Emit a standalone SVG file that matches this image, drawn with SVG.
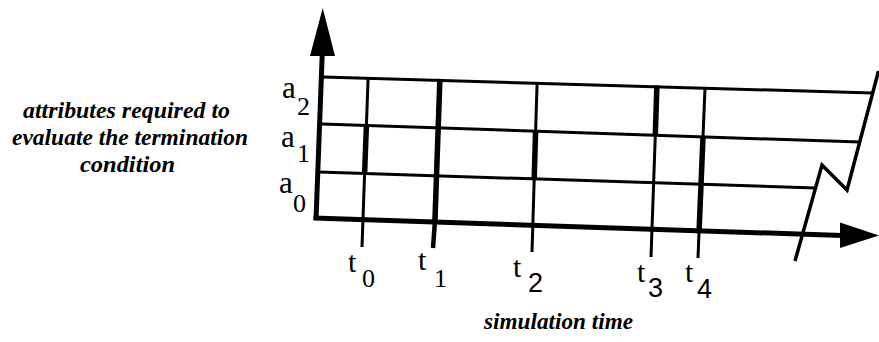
<svg xmlns="http://www.w3.org/2000/svg" width="879" height="342" viewBox="0 0 879 342">
  <rect width="879" height="342" fill="#fff"/>

  <g id="grid" stroke="#000" stroke-width="3" fill="none">
    <line x1="323" y1="77" x2="872.5" y2="93.1"/>
    <line x1="322" y1="124" x2="859.7" y2="142.1"/>
    <line x1="319" y1="172" x2="815.5" y2="188"/>
  </g>

  <g id="t0" stroke="#000" stroke-width="3" fill="none">
    <line x1="368.1" y1="78.3" x2="366.4" y2="125.5"/>
    <line stroke-width="5.5" x1="366.4" y1="125.5" x2="364.6" y2="173.5"/>
    <line x1="364.6" y1="173.5" x2="362" y2="247"/>
  </g>
  <g id="t1" stroke="#000" stroke-width="5.5" fill="none">
    <line x1="439.9" y1="78.8" x2="434.9" y2="221.9"/>
    <line stroke-width="4.5" x1="434.9" y1="221.9" x2="433" y2="248"/>
  </g>
  <g id="t2" stroke="#000" stroke-width="3" fill="none">
    <line x1="537.1" y1="83.3" x2="535.6" y2="131.2"/>
    <line stroke-width="5.5" x1="535.6" y1="131.2" x2="534.2" y2="178.9"/>
    <line x1="534.2" y1="178.9" x2="532" y2="252"/>
  </g>
  <g id="t3" stroke="#000" stroke-width="3" fill="none">
    <line stroke-width="5.5" x1="656.9" y1="85.5" x2="655.3" y2="135.2"/>
    <line x1="655.3" y1="135.2" x2="651" y2="257"/>
  </g>
  <g id="t4" stroke="#000" stroke-width="3" fill="none">
    <line x1="705" y1="88.2" x2="703" y2="136.8"/>
    <line stroke-width="5.5" x1="703" y1="136.8" x2="699.1" y2="230.5"/>
    <line x1="699.1" y1="230.5" x2="698" y2="258"/>
  </g>

  <g id="axes">
    <line stroke="#000" stroke-width="5" x1="316" y1="220" x2="322.3" y2="52"/>
    <polygon fill="#000" points="322.7,8 310,56 335,56"/>
    <line stroke="#000" stroke-width="5" x1="313.5" y1="218" x2="842" y2="235.5"/>
    <polygon fill="#000" points="879,235.5 840,222.5 840,248"/>
  </g>

  <g id="break">
    <polyline stroke="#000" stroke-width="3.5" fill="none" points="878.5,71 847,190 822,165 795,261"/>
  </g>

  <g id="a-labels" fill="#000" font-family="Times New Roman, serif">
    <text x="282" y="98" font-size="31">a</text><text x="297" y="115" font-size="26">2</text>
    <text x="281" y="147" font-size="31">a</text><text x="297" y="162" font-size="26">1</text>
    <text x="279" y="193" font-size="31">a</text><text x="293" y="212" font-size="26">0</text>
  </g>

  <g id="t-labels" fill="#000" font-family="Times New Roman, serif">
    <text x="348" y="272" font-size="30">t</text><text x="362" y="287" font-size="26">0</text>
    <text x="418" y="270" font-size="30">t</text><text x="434" y="287" font-size="26">1</text>
    <text x="513" y="277" font-size="30">t</text><text font-family="Arial, sans-serif" x="528" y="292" font-size="27">2</text>
    <text x="637" y="282" font-size="30">t</text><text font-family="Arial, sans-serif" x="648" y="297" font-size="27">3</text>
    <text x="685" y="282" font-size="30">t</text><text font-family="Arial, sans-serif" x="697" y="298" font-size="27">4</text>
  </g>

  <g id="left-label" fill="#000" font-family="Times New Roman, serif" font-style="italic" font-weight="bold" font-size="23">
    <text x="23" y="118" textLength="207" lengthAdjust="spacingAndGlyphs">attributes required to</text>
    <text x="12" y="145" textLength="236" lengthAdjust="spacingAndGlyphs">evaluate the termination</text>
    <text x="80" y="172" textLength="95" lengthAdjust="spacingAndGlyphs">condition</text>
  </g>

  <g id="x-label" fill="#000" font-family="Times New Roman, serif" font-style="italic" font-weight="bold" font-size="23">
    <text x="484" y="329" textLength="149" lengthAdjust="spacingAndGlyphs">simulation time</text>
  </g>
</svg>
